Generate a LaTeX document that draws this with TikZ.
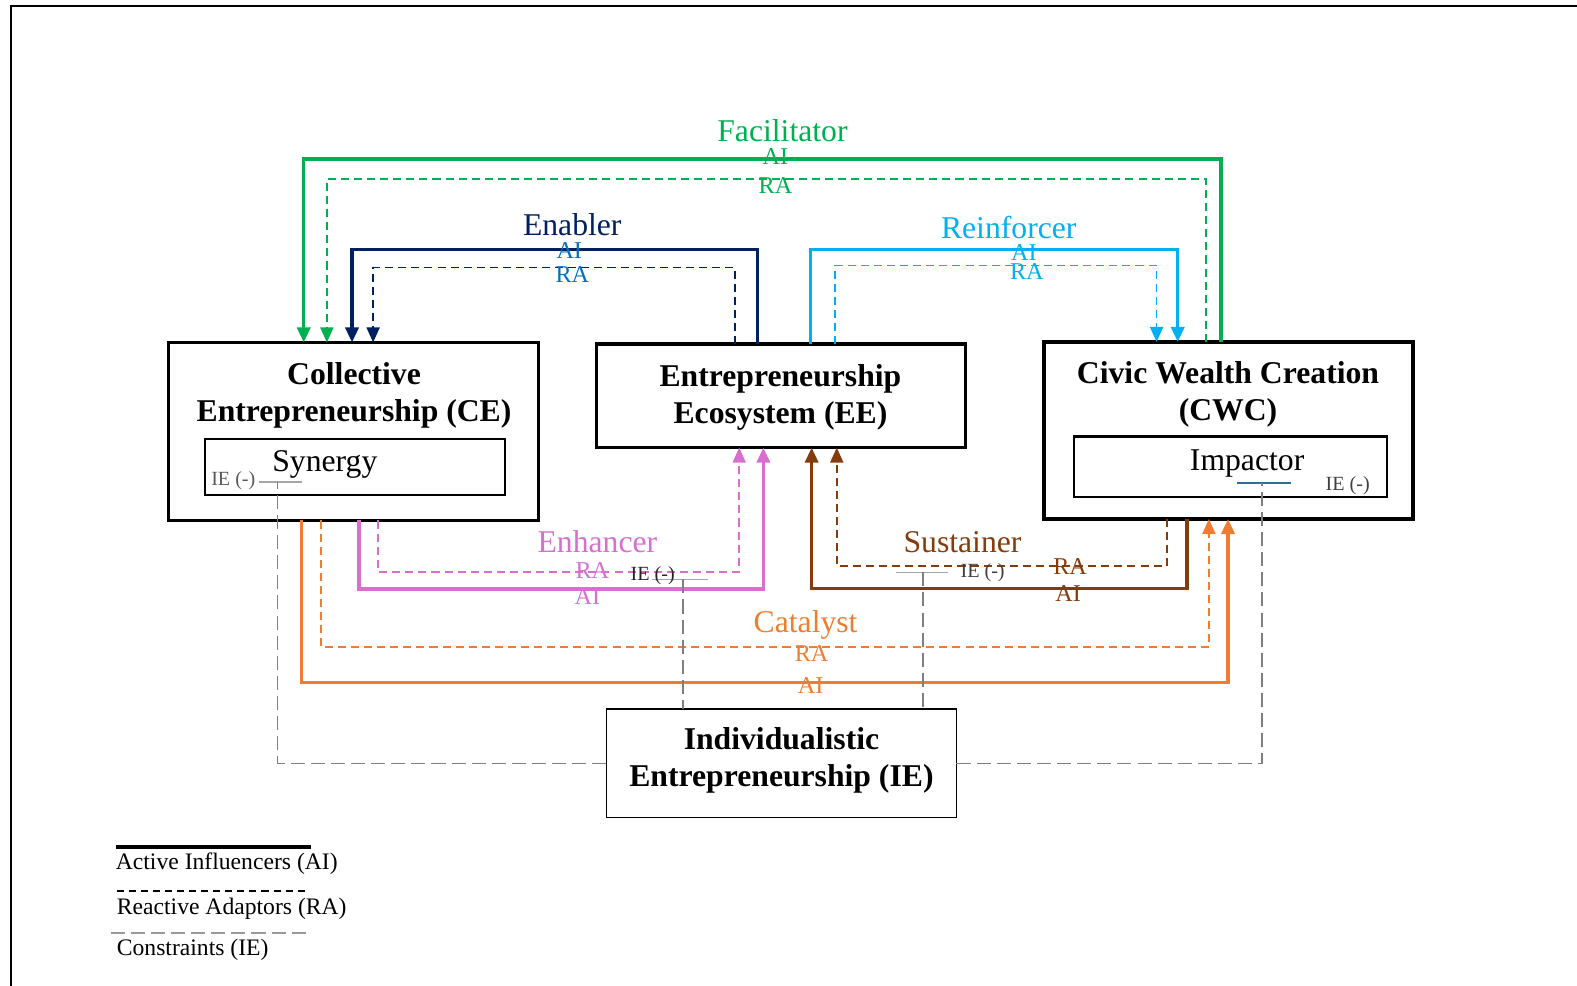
\documentclass[tikz,border=0pt]{standalone}
\usepackage{fontspec}
\setmainfont{Liberation Serif}
\usetikzlibrary{arrows.meta}

\definecolor{facil}{HTML}{00B050}
\definecolor{enab}{HTML}{002060}
\definecolor{enabtxt}{HTML}{0070C0}
\definecolor{reinf}{HTML}{00B0F0}
\definecolor{enhan}{HTML}{D86ED0}
\definecolor{sustn}{HTML}{843C0C}
\definecolor{catal}{HTML}{ED7D31}
\definecolor{constr}{HTML}{7F7F7F}
\definecolor{constrbar}{HTML}{A6A6A6}
\definecolor{impbar}{HTML}{2F6E8F}

\tikzset{
  bigbox/.style={draw, line width=3.3pt, inner sep=0pt, outer sep=0pt},
  inbox/.style={draw, line width=2pt, inner sep=0pt, outer sep=0pt},
  iebox/.style={draw, line width=1.4pt, inner sep=0pt, outer sep=0pt},
  title/.style={inner sep=0pt, align=center, font=\fontsize{31.5}{37}\selectfont\bfseries},
  role/.style={inner sep=0pt, font=\fontsize{31.5}{36}\selectfont},
  tag/.style={inner sep=0pt, font=\fontsize{24}{28}\selectfont},
  ietag/.style={inner sep=0pt, font=\fontsize{20}{24}\selectfont},
  legtext/.style={inner sep=0pt, anchor=west, font=\fontsize{23.5}{28}\selectfont},
  active/.style={line width=3.5pt},
  reactive/.style={line width=1.7pt, dash pattern=on 8pt off 5pt},
  tip/.style={-{Triangle[length=15pt,width=13pt]}},
  limit/.style={constr, line width=1.7pt, dash pattern=on 14pt off 6pt},
  limitbar/.style={constrbar, line width=1.5pt}
}

\begin{document}
\begin{tikzpicture}[x=1pt,y=-1pt]
\useasboundingbox (0,0) rectangle (1568,980);

% page frame
\draw[line width=2.7pt] (1568,6) -- (11,6) -- (11,980);

% main boxes
\node[bigbox, minimum width=368pt, minimum height=177pt] (ce)  at (351.5,429) {};
\node[inbox,  minimum width=298pt, minimum height=56pt]  (syn) at (353,464) {};
\node[bigbox, minimum width=367pt, minimum height=103pt] (ee)  at (776.5,393.5) {};
\node[bigbox, minimum width=367pt, minimum height=176pt] (cwc) at (1221.5,428) {};
\node[inbox,  minimum width=311pt, minimum height=60pt]  (imp) at (1223.5,464) {};
\node[iebox,  minimum width=348pt, minimum height=108pt] (ie)  at (777,759) {};

\node[title] (cet)  at (352,393)    {Collective\\Entrepreneurship (CE)};
\node[title] (eet)  at (776,395)    {Entrepreneurship\\Ecosystem (EE)};
\node[title] (cwct) at (1221,392)   {Civic Wealth Creation\\(CWC)};
\node[title] (iet)  at (777,756)    {Individualistic\\Entrepreneurship (IE)};
\node[role]  (synt) at (323,462)    {Synergy};
\node[role]  (impt) at (1240,461)   {Impactor};

% Facilitator: CWC -> CE
\draw[facil, active, tip]   ([xshift=-7.5pt]cwc.north)  -- ++(0,-182) -| ([xshift=-49.5pt]ce.north);
\draw[facil, reactive, tip] ([xshift=-22.5pt]cwc.north) -- ++(0,-162) -| ([xshift=-26.5pt]ce.north);
\node[role, facil] (facl) at (778,130) {Facilitator};
\node[tag, facil]  (facai) at (771,156) {AI};
\node[tag, facil]  (facra) at (771,184) {RA};

% Enabler: EE -> CE
\draw[enab, active, tip]   ([xshift=-23.5pt]ee.north) -- ++(0,-94) -| ([xshift=-1.5pt]ce.north);
\draw[enab, reactive, tip] ([xshift=-45.5pt]ee.north) -- ++(0,-76) -| ([xshift=19.5pt]ce.north);
\node[role, enab]    (enal)  at (569,223) {Enabler};
\node[tag, enabtxt]  (enaai) at (566,249) {AI};
\node[tag, enabtxt]  (enara) at (569,273) {RA};

% Reinforcer: EE -> CWC
\draw[reinf, active, tip]   ([xshift=29.5pt]ee.north) -- ++(0,-94) -| ([xshift=-50.5pt]cwc.north);
\draw[reinf, reactive, tip] ([xshift=53.5pt]ee.north) -- ++(0,-78) -| ([xshift=-71.5pt]cwc.north);
\node[role, reinf] (reil)  at (1003,226) {Reinforcer};
\node[tag, reinf]  (reiai) at (1018,251) {AI};
\node[tag, reinf]  (reira) at (1021,270) {RA};

% Enhancer: CE -> EE
\draw[enhan, active, tip]   ([xshift=5.5pt]ce.south)  -- ++(0,68) -| ([xshift=-17.5pt]ee.south);
\draw[enhan, reactive, tip] ([xshift=24.5pt]ce.south) -- ++(0,51) -| ([xshift=-41.5pt]ee.south);
\node[role, enhan] (enhl)  at (594,539) {Enhancer};
\node[tag, enhan]  (enhra) at (589,567) {RA};
\node[tag, enhan]  (enhai) at (584,593) {AI};

% Sustainer: CWC -> EE
\draw[sustn, active, tip]   ([xshift=-41.5pt]cwc.south) -- ++(0,69) -| ([xshift=30.5pt]ee.south);
\draw[sustn, reactive, tip] ([xshift=-61.5pt]cwc.south) -- ++(0,47) -| ([xshift=55.5pt]ee.south);
\node[role, sustn] (susl)  at (957,539) {Sustainer};
\node[tag, sustn]  (susra) at (1064,563) {RA};
\node[tag, sustn]  (susai) at (1062,590) {AI};

% Catalyst: CE -> CWC
\draw[catal, active, tip]   ([xshift=-51.5pt]ce.south) -- ++(0,161) -| ([xshift=-0.5pt]cwc.south);
\draw[catal, reactive, tip] ([xshift=-32.5pt]ce.south) -- ++(0,126) -| ([xshift=-19.5pt]cwc.south);
\node[role, catal] (catl)  at (801,621) {Catalyst};
\node[tag, catal]  (catra) at (807,650) {RA};
\node[tag, catal]  (catai) at (806,682) {AI};

% constraints from IE
\coordinate (ceT)  at (276,479);
\coordinate (cwcT) at (1255,480);
\coordinate (enT)  at (679,576);
\coordinate (suT)  at (918,569);

\draw[limitbar] ([xshift=-18pt]ceT) -- ([xshift=24pt]ceT);
\draw[limit] (ie.west) -| (ceT);
\node[ietag, text=black!65] (ceie) at (232,478) {IE (-)};

\draw[impbar, line width=1.5pt] ([xshift=-25pt]cwcT) -- ([xshift=29pt]cwcT);
\draw[limit] (ie.east) -| (cwcT);
\node[ietag, text=black!75] (cwcie) at (1340,483) {IE (-)};

\draw[limitbar] ([xshift=-31pt]enT) -- ([xshift=25pt]enT);
\draw[limit] (enT) -- (enT |- ie.north);
\node[ietag, text=black!85] (enie) at (649,572) {IE (-)};

\draw[limitbar] ([xshift=-27pt]suT) -- ([xshift=25pt]suT);
\draw[limit] (suT) -- (suT |- ie.north);
\node[ietag, text=black!75] (suie) at (977,569) {IE (-)};

% legend
\coordinate (la1) at (115,842);  \coordinate (lb1) at (309,842);
\coordinate (la2) at (116,886);  \coordinate (lb2) at (305,886);
\coordinate (la3) at (110,928);  \coordinate (lb3) at (308,928);
\draw[line width=3.5pt] (la1) -- (lb1);
\draw[line width=1.7pt, dash pattern=on 7pt off 5pt] (la2) -- (lb2);
\draw[constr!80, line width=1.7pt, dash pattern=on 14pt off 6pt] (la3) -- (lb3);
\node[legtext] (l1) at (115,859) {Active Influencers (AI)};
\node[legtext] (l2) at (116,904) {Reactive Adaptors (RA)};
\node[legtext] (l3) at (116,944) {Constraints (IE)};
\end{tikzpicture}
\end{document}
